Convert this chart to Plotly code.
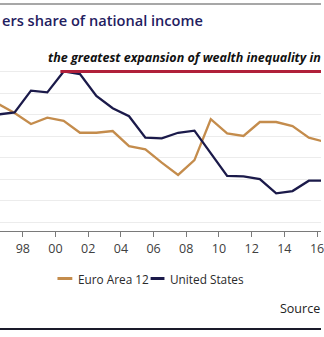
import plotly.graph_objects as go

# ---- data ----
years = list(range(1996, 2017))
euro_area_12 = [64.50, 64.08, 63.57, 63.86, 63.71, 63.16, 63.16, 63.24, 62.54, 62.39,
                61.77, 61.20, 61.89, 63.79, 63.13, 63.01, 63.66, 63.66, 63.47, 62.93, 62.73]
united_states = [64.01, 64.11, 65.12, 65.04, 66.01, 65.89, 64.87, 64.30, 63.93, 62.93,
                 62.90, 63.16, 63.26, 62.20, 61.15, 61.13, 61.00, 60.34, 60.45, 60.93, 60.94]
tick_years = list(range(1998, 2017, 2))
tick_labels = ["98", "00", "02", "04", "06", "08", "10", "12", "14", "16"]
series_names = ["Euro Area 12", "United States"]

EURO_COLOR = "#C48C4C"
US_COLOR = "#1B1A4A"
FONT = "Open Sans"

W, H = 324, 337
PT, PB = 62, 231  # plot area top/bottom in px


def py(p):
    """pixel row -> paper y"""
    return (PB - p) / (PB - PT)


def px(p):
    return p / W


fig = go.Figure()
fig.add_trace(go.Scatter(x=years, y=euro_area_12, mode="lines", name=series_names[0],
                         line=dict(color=EURO_COLOR, width=2.3), showlegend=False))
fig.add_trace(go.Scatter(x=years, y=united_states, mode="lines", name=series_names[1],
                         line=dict(color=US_COLOR, width=2.3), showlegend=False))

x_range = [1996.106, 2015.742]
fig.update_xaxes(range=x_range, tickmode="array",
                 tickvals=[y - 0.5 for y in tick_years], ticktext=tick_labels,
                 showgrid=False, zeroline=False, showline=True, linecolor="#7a7a7a",
                 linewidth=1, ticks="outside", ticklen=5, tickcolor="#7a7a7a",
                 ticklabelstandoff=1, ticklabeloverflow="allow",
                 tickfont=dict(family=FONT, size=12.5, color="#404040"))
fig.update_yaxes(range=[58.591, 66.451], dtick=1, tick0=0, showgrid=True,
                 gridcolor="#ECECEC", gridwidth=1, zeroline=False,
                 showticklabels=False, showline=False)

# red reference line at the US peak
peak = max(united_states)
fig.add_shape(type="line", xref="x", yref="y", x0=1999.8, x1=x_range[1] + 1,
              y0=peak, y1=peak, line=dict(color="#B0203A", width=3))

annotations = [
    dict(text="ers share of national income", x=px(0), y=py(20),
         xanchor="left", yanchor="middle",
         font=dict(family=FONT, size=14.6, color="#1F2060", weight=600)),
    dict(text="<b><i>the greatest expansion of wealth inequality in</i></b>",
         x=px(46), y=py(57), xanchor="left", yanchor="middle",
         font=dict(family=FONT, size=12.5, color="#111111")),
    dict(text=series_names[0], x=px(77), y=py(278.5), xanchor="left", yanchor="middle",
         font=dict(family=FONT, size=11.8, color="#2a2a2a")),
    dict(text=series_names[1], x=px(170), y=py(278.5), xanchor="left", yanchor="middle",
         font=dict(family=FONT, size=11.8, color="#2a2a2a")),
    dict(text="Source", x=px(325), y=py(308), xanchor="right", yanchor="middle",
         font=dict(family=FONT, size=12.5, color="#222222")),
]
for a in annotations:
    a.update(xref="paper", yref="paper", showarrow=False)
fig.update_layout(annotations=annotations)

# legend swatches, borders
fig.add_shape(type="line", xref="paper", yref="paper", x0=px(58), x1=px(73),
              y0=py(278.5), y1=py(278.5), line=dict(color=EURO_COLOR, width=3))
fig.add_shape(type="line", xref="paper", yref="paper", x0=px(152), x1=px(166),
              y0=py(278.5), y1=py(278.5), line=dict(color=US_COLOR, width=3))
fig.add_shape(type="line", xref="paper", yref="paper", x0=0, x1=1,
              y0=py(4), y1=py(4), line=dict(color="#8a8a8a", width=1.5))
fig.add_shape(type="line", xref="paper", yref="paper", x0=0, x1=1,
              y0=py(329), y1=py(329), line=dict(color="#1a1a2a", width=2))

fig.update_layout(width=W, height=H, margin=dict(l=0, r=0, t=PT, b=H - PB),
                  paper_bgcolor="white", plot_bgcolor="white", showlegend=False)

fig.write_html("out.html", config={"displayModeBar": False})
